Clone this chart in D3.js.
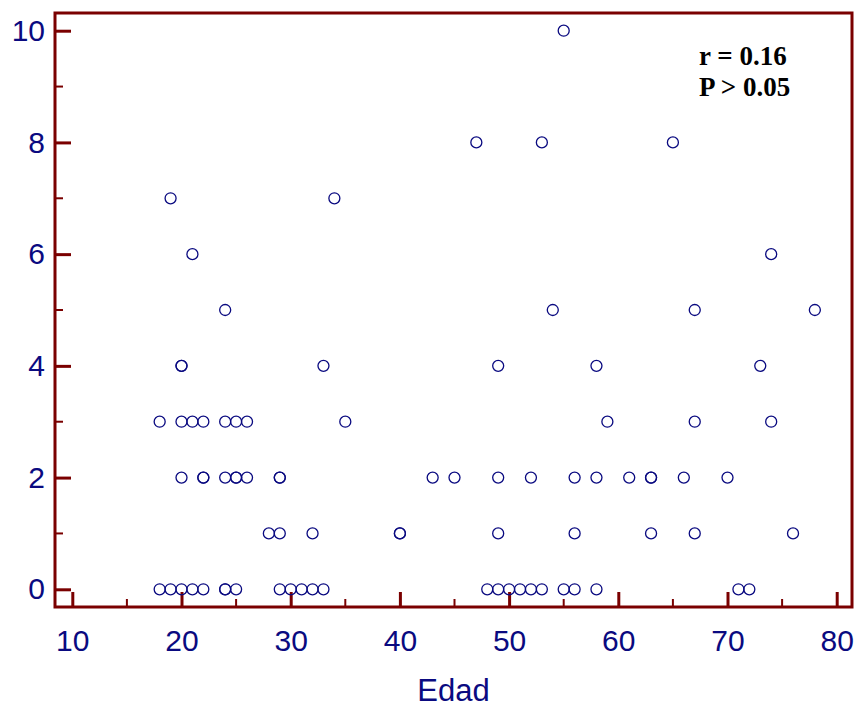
<!DOCTYPE html>
<html>
<head>
<meta charset="utf-8">
<script src="https://cdn.jsdelivr.net/npm/d3@7"></script>
<style>
  body { margin: 0; background: #fff; }
  .tick text { font-family: "Liberation Sans", Arial, sans-serif; font-size: 30px; fill: #0a0a80; }
</style>
</head>
<body>
<div id="chart"></div>
<script>
// Edad (x) vs score (y)
var edad = [18,19,20,21,22,24,24,25,29,30,31,32,33,48,49,50,51,52,53,55,56,58,71,72,
            28,29,32,40,40,49,56,63,67,76,
            20,22,22,24,25,25,26,29,29,43,45,49,52,56,58,61,63,63,66,70,
            18,20,21,22,24,25,26,35,59,67,74,
            20,20,33,49,58,73,
            24,54,67,78,
            21,74,
            19,34,
            47,53,65,
            55];
var valor = [0,0,0,0,0,0,0,0,0,0,0,0,0,0,0,0,0,0,0,0,0,0,0,0,
             1,1,1,1,1,1,1,1,1,1,
             2,2,2,2,2,2,2,2,2,2,2,2,2,2,2,2,2,2,2,2,
             3,3,3,3,3,3,3,3,3,3,3,
             4,4,4,4,4,4,
             5,5,5,5,
             6,6,
             7,7,
             8,8,8,
             10];
var xTicks = [10,20,30,40,50,60,70,80];
var yTicks = [0,2,4,6,8,10];
var notas = ["r = 0.16", "P > 0.05"];

var width = 859, height = 708;
var frame = {left: 55, top: 13, right: 852, bottom: 607};
var axisColor = "#7a0000";
var markColor = "#0a0a80";

var svg = d3.select("#chart").append("svg")
  .attr("width", width)
  .attr("height", height);

var x = d3.scaleLinear().domain([10, 80]).range([72.3, 836.7]);
var y = d3.scaleLinear().domain([0, 10]).range([589.3, 30.7]);

// minor ticks
var xMinor = d3.range(15, 80, 10);
var yMinor = d3.range(1, 10, 2);

svg.append("g")
  .selectAll("line.xminor")
  .data(xMinor)
  .enter().append("line")
  .attr("x1", d => x(d)).attr("x2", d => x(d))
  .attr("y1", frame.bottom).attr("y2", frame.bottom - 8)
  .attr("stroke", axisColor).attr("stroke-width", 2);

svg.append("g")
  .selectAll("line.yminor")
  .data(yMinor)
  .enter().append("line")
  .attr("x1", frame.left).attr("x2", frame.left + 8)
  .attr("y1", d => y(d)).attr("y2", d => y(d))
  .attr("stroke", axisColor).attr("stroke-width", 2);

// x axis
var xAxis = svg.append("g")
  .attr("transform", `translate(0, ${frame.bottom})`)
  .call(d3.axisBottom(x).tickValues(xTicks).tickSizeInner(-15).tickSizeOuter(0).tickPadding(23));
xAxis.select(".domain").remove();
xAxis.selectAll(".tick line").attr("stroke", axisColor).attr("stroke-width", 3);

// y axis
var yAxis = svg.append("g")
  .attr("transform", `translate(${frame.left}, 0)`)
  .call(d3.axisLeft(y).tickValues(yTicks).tickSizeInner(-16).tickSizeOuter(0).tickPadding(10));
yAxis.select(".domain").remove();
yAxis.selectAll(".tick line").attr("stroke", axisColor).attr("stroke-width", 3);

// frame
svg.append("rect")
  .attr("x", frame.left).attr("y", frame.top)
  .attr("width", frame.right - frame.left)
  .attr("height", frame.bottom - frame.top)
  .attr("fill", "none")
  .attr("stroke", axisColor)
  .attr("stroke-width", 3);

// points
svg.append("g")
  .selectAll("circle")
  .data(edad.map((d, i) => ({e: d, v: valor[i]})))
  .enter().append("circle")
  .attr("cx", d => x(d.e))
  .attr("cy", d => y(d.v))
  .attr("r", 5.5)
  .attr("fill", "none")
  .attr("stroke", markColor)
  .attr("stroke-width", 1.3);

// x label
svg.append("text")
  .attr("x", (frame.left + frame.right) / 2)
  .attr("y", 701)
  .attr("text-anchor", "middle")
  .attr("font-family", "Liberation Sans, Arial, sans-serif")
  .attr("font-size", 31)
  .attr("fill", markColor)
  .text("Edad");

// correlation note
svg.append("g")
  .selectAll("text")
  .data(notas)
  .enter().append("text")
  .attr("x", 699)
  .attr("y", (d, i) => 65 + i * 30.5)
  .attr("font-family", "Liberation Serif, Times New Roman, serif")
  .attr("font-weight", "bold")
  .attr("font-size", 27)
  .attr("fill", "#000")
  .text(d => d);
</script>
</body>
</html>
